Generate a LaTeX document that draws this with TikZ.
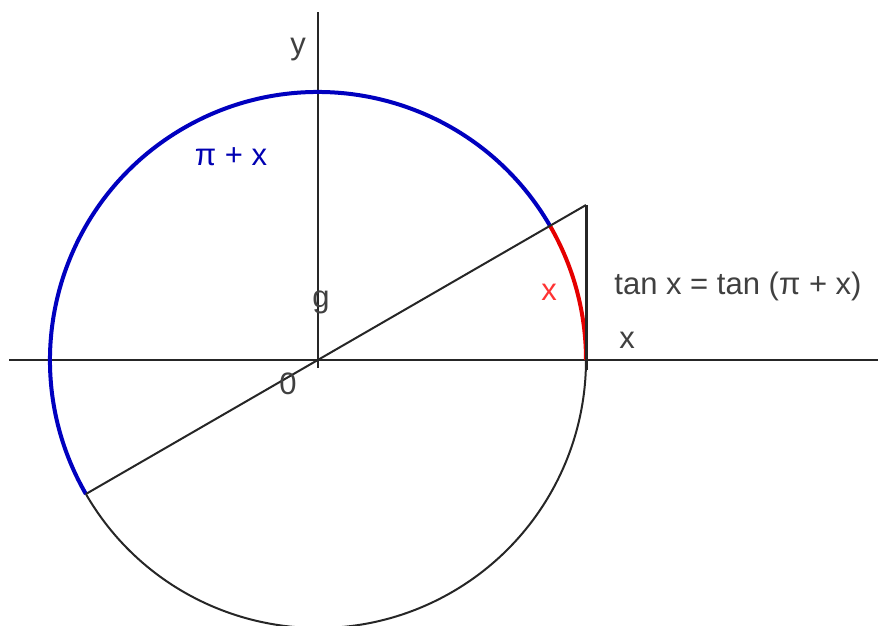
\documentclass[tikz,border=0pt]{standalone}
\usepackage{fontspec}
\setmainfont{Liberation Sans}
\usetikzlibrary{calc}
\begin{document}
\begin{tikzpicture}[x=1pt,y=-1pt,
  lbl/.style={font=\fontsize{31}{33}\selectfont, text=black!75, inner sep=0pt},
  thinline/.style={line width=2pt, draw=black!85},
  bluearc/.style={line width=4pt, draw=blue!75!black},
  redarc/.style={line width=4pt, draw=red!90!black}]
\useasboundingbox (0,0) rectangle (878,625);
\def\R{268}
\coordinate (O) at (318,360);
\coordinate (A) at ($(O)+(\R,0)$);
\coordinate (T) at (586,205);
\coordinate (P) at ($(O)+({\R*cos(210)},{-\R*sin(210)})$);
\coordinate (Q) at ($(O)+({\R*cos(30)},{-\R*sin(30)})$);
\coordinate (xl) at (9,360);
\coordinate (xr) at (878,360);
\coordinate (yt) at (318,12);
\coordinate (yb) at (318,368);
\coordinate (Ab) at (586,370);
% axes
\draw[thinline] (xl) -- (xr);
\draw[thinline] (yt) -- (yb);
% black lower circle part
\draw[thinline] (P) arc[start angle=-210, end angle=-360, radius=\R];
% blue arc pi + x
\draw[bluearc] (Q) arc[start angle=-30, end angle=-210, radius=\R];
% red arc x
\draw[redarc] (A) arc[start angle=0, end angle=-30, radius=\R];
% diagonal and tangent
\draw[thinline] (P) -- (T);
\draw[line width=3pt, draw=black!85] (Ab) -- (T);
% labels
\node[lbl] (ly) at (298,50) {y};
\node[lbl, text=blue!70!black] (lpix) at (231,157) {π + x};
\node[lbl] (lg) at (321,302) {g};
\node[lbl] (l0) at (288,384) {0};
\node[lbl, text=red!80] (lxr) at (549,292) {x};
\node[lbl] (lx) at (627,340) {x};
\node[lbl] (ltan) at (738,286) {tan x = tan (π + x)};
\end{tikzpicture}
\end{document}
